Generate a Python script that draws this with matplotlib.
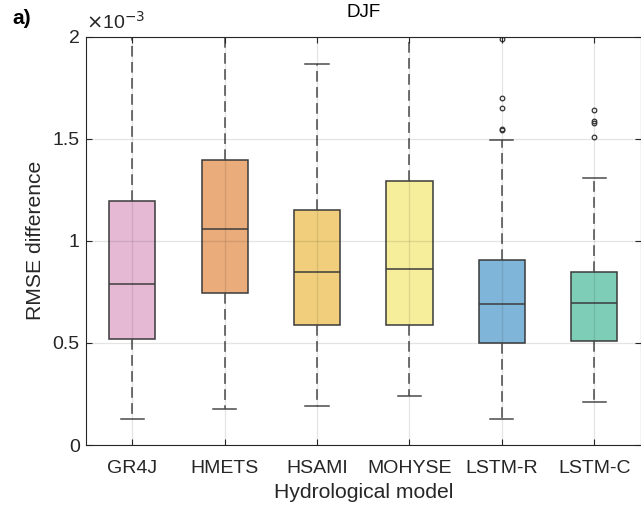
import matplotlib
matplotlib.use("Agg")
import matplotlib.pyplot as plt

plt.rcParams['font.family'] = ['Liberation Sans', 'DejaVu Sans']

# RMSE difference per hydrological model, DJF season (units of 1e-3)
models = ["GR4J", "HMETS", "HSAMI", "MOHYSE", "LSTM-R", "LSTM-C"]
lower_whisker = [0.127, 0.178, 0.191, 0.241, 0.126, 0.212]
q1 = [0.517, 0.745, 0.587, 0.588, 0.497, 0.510]
median = [0.789, 1.056, 0.847, 0.861, 0.688, 0.696]
q3 = [1.193, 1.395, 1.149, 1.292, 0.905, 0.847]
upper_whisker = [2.15, 2.25, 1.866, 2.10, 1.492, 1.307]
outliers = [[], [], [], [], [1.988, 1.700, 1.648, 1.548, 1.540],
            [1.642, 1.585, 1.575, 1.506]]
box_colors = ["#E5B9D3", "#E9AC7A", "#F0CE7B", "#F6EE9A", "#7FB5D8", "#7ECDB6"]
yticks = [0, 0.5, 1, 1.5, 2]

dark = "#262626"
edge = "#3a3a3a"

fig = plt.figure(figsize=(6.41, 5.13), dpi=100)
ax = fig.add_axes([86 / 641, 68 / 513, 554.5 / 641, 408.5 / 513])

stats = []
for i, name in enumerate(models):
    stats.append(dict(label=name, whislo=lower_whisker[i], q1=q1[i], med=median[i],
                      q3=q3[i], whishi=upper_whisker[i], fliers=outliers[i]))

positions = list(range(1, len(models) + 1))
bp = ax.bxp(stats, positions=positions, widths=0.5, patch_artist=True,
            showfliers=True, capwidths=0.25,
            boxprops=dict(edgecolor=edge, linewidth=1.1),
            medianprops=dict(color="#3c3c3c", linewidth=1.1),
            whiskerprops=dict(color="#4a4a4a", linewidth=1.1, linestyle=(0, (7, 3.5))),
            capprops=dict(color="#4a4a4a", linewidth=1.1),
            flierprops=dict(marker="o", markersize=3.3, markerfacecolor="none",
                            markeredgecolor="#333333", markeredgewidth=0.9))
for patch, c in zip(bp["boxes"], box_colors):
    patch.set_facecolor(c)

ax.set_xlim(0.5, 6.5)
ax.set_ylim(0, 2)
ax.set_yticks(yticks)
ax.set_yticklabels(["0", "0.5", "1", "1.5", "2"])
ax.set_xticks(positions)
ax.set_xticklabels(models)

# grid drawn over the boxes, faint, so it shows through like a tinted box face
ax.set_axisbelow(False)
ax.grid(True, color=dark, alpha=0.12, linewidth=0.9)

for s in ax.spines.values():
    s.set_color(dark)
    s.set_linewidth(0.8)
ax.tick_params(direction="in", length=4, width=0.8, color=dark,
               top=True, right=True, labelsize=14, labelcolor=dark)
ax.tick_params(axis="x", pad=11)
ax.tick_params(axis="y", pad=4.5)

ax.set_ylabel("RMSE difference", fontsize=15.2, color=dark, labelpad=5.5)
ax.set_xlabel("Hydrological model", fontsize=15.2, color=dark, labelpad=4)
ax.set_title("DJF", fontsize=13.5, color="black", pad=14)

ax.text(0.0, 1.01, r"$\times$10$^{-3}$", transform=ax.transAxes, fontsize=14,
        color=dark, ha="left", va="bottom")
fig.text(12 / 641, 1 - 18 / 513, "a)", fontsize=15, fontweight="bold",
         ha="left", va="center")

fig.savefig("out.png", dpi=100)
